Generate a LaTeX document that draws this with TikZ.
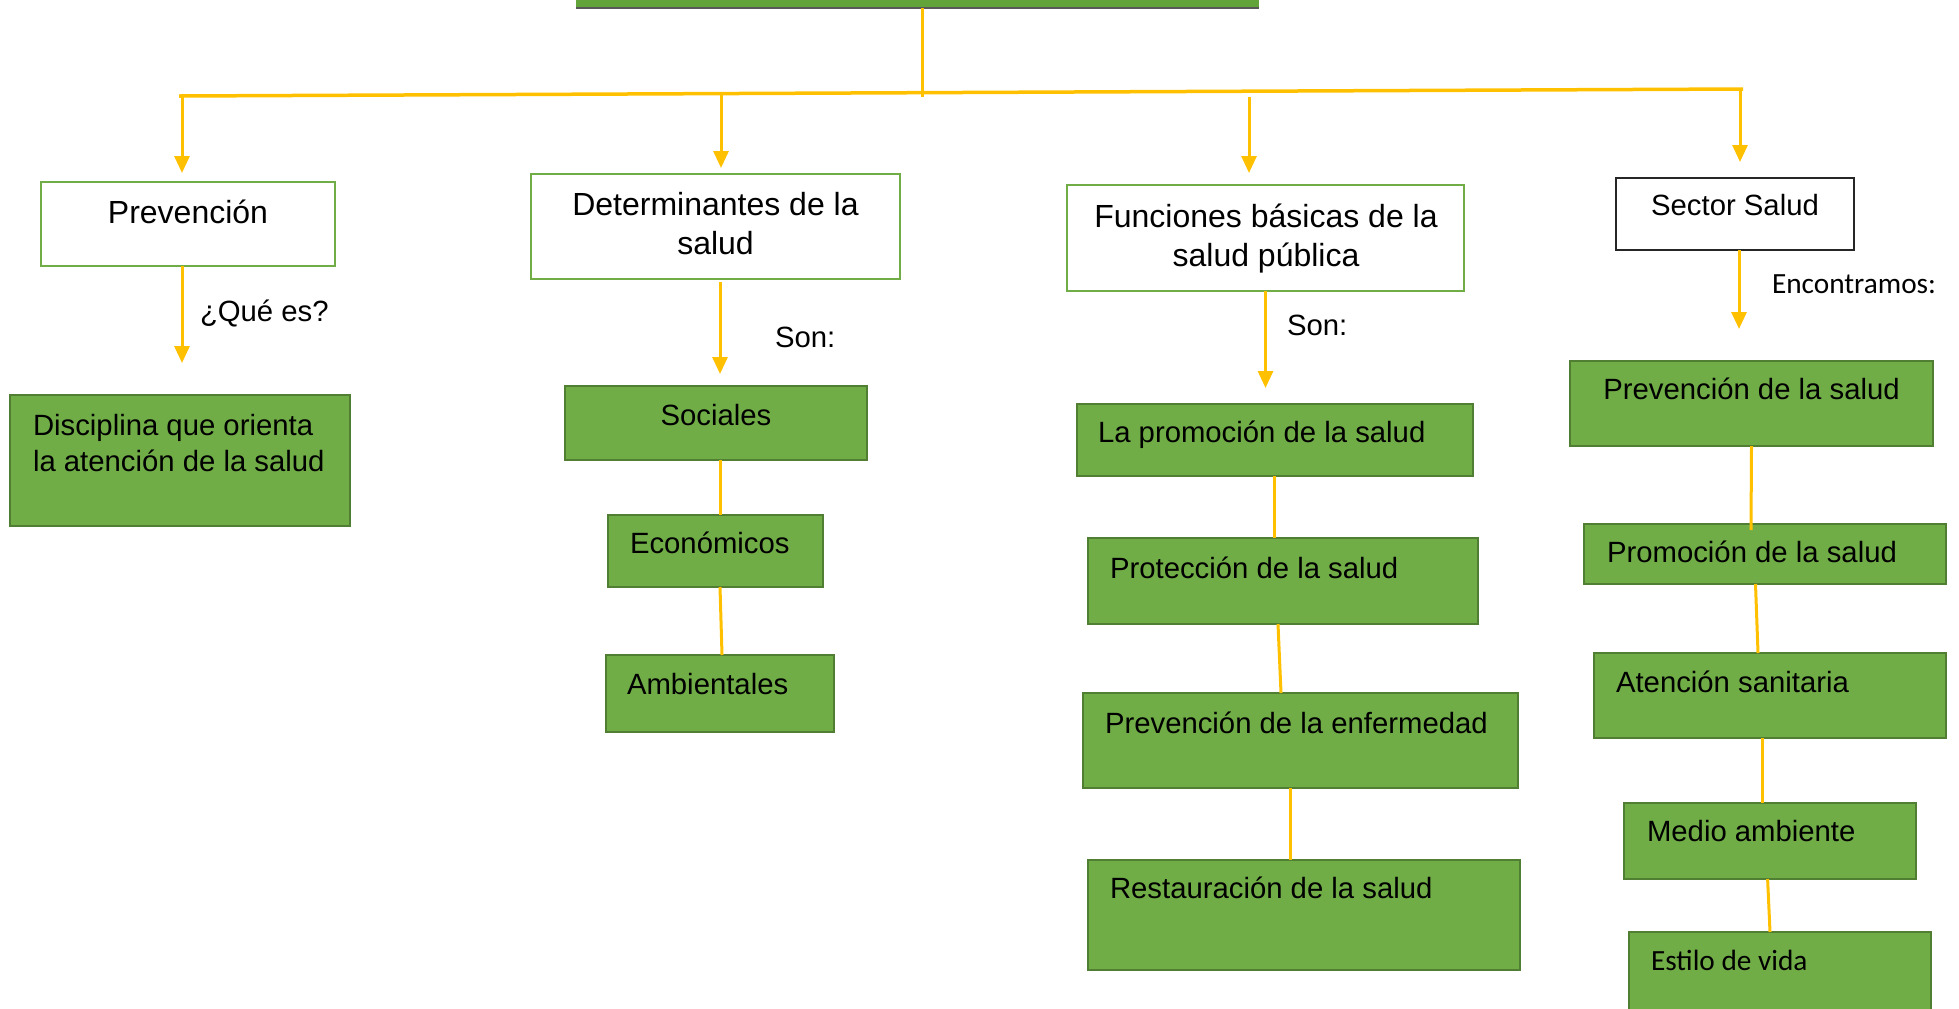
\documentclass[tikz,border=0pt]{standalone}
\usepackage{fontspec}
\setmainfont{Liberation Sans}
\newfontfamily\calib{Carlito}
\usetikzlibrary{arrows.meta}
\definecolor{yel}{HTML}{FFC000}
\definecolor{gfill}{HTML}{70AD47}
\definecolor{gline}{HTML}{507E32}
\definecolor{topgreen}{HTML}{62A33A}
\definecolor{topgray}{HTML}{595959}
\tikzset{
  gbox/.style={draw=gline, fill=gfill, line width=1.3pt, inner sep=0pt, outer sep=0pt, anchor=north west},
  wbox/.style={draw=gfill, fill=white, line width=1.1pt, inner sep=0pt, outer sep=0pt, anchor=north west},
  kbox/.style={draw=black!85, fill=white, line width=0.9pt, inner sep=0pt, outer sep=0pt, anchor=north west},
  txt/.style={inner sep=0pt, outer sep=0pt, font=\fontsize{14.65pt}{18pt}\selectfont},
  btxt/.style={inner sep=0pt, outer sep=0pt, font=\fontsize{16pt}{19pt}\selectfont},
  ctxt/.style={inner sep=0pt, outer sep=0pt, font=\calib\fontsize{14.65pt}{18pt}\selectfont},
  conn/.style={draw=yel, line width=1.5pt},
  arr/.style={conn, -{Triangle[width=7.5pt,length=8.5pt]}},
}
\begin{document}
\begin{tikzpicture}[x=0.5pt,y=-0.5pt]
\useasboundingbox (0,0) rectangle (1959,1008);
% top box
\node[fill=topgreen, inner sep=0pt, outer sep=0pt, minimum width=341.5pt, minimum height=44pt, anchor=south west] (top) at (576,8) {};
\draw[topgray, line width=1.2pt] (top.south west) -- (top.south east);
% level-1 boxes
\node[wbox, minimum width=147pt, minimum height=42pt] (prev) at (41,182) {};
\node[wbox, minimum width=184.5pt, minimum height=52.5pt] (det) at (531,174) {};
\node[wbox, minimum width=198.5pt, minimum height=53pt] (fun) at (1067,185) {};
\node[kbox, minimum width=119pt, minimum height=36pt] (sec) at (1616,178) {};
% green boxes
\node[gbox, minimum width=170pt, minimum height=65.5pt] (disc) at (10,395) {};
\node[gbox, minimum width=151pt, minimum height=37pt] (soc) at (565,386) {};
\node[gbox, minimum width=107.5pt, minimum height=36pt] (eco) at (608,515) {};
\node[gbox, minimum width=114pt, minimum height=38.5pt] (amb) at (606,655) {};
\node[gbox, minimum width=198pt, minimum height=36pt] (lp) at (1077,404) {};
\node[gbox, minimum width=195pt, minimum height=43pt] (prot) at (1088,538) {};
\node[gbox, minimum width=217.5pt, minimum height=47.5pt] (pe) at (1083,693) {};
\node[gbox, minimum width=216pt, minimum height=55pt] (rest) at (1088,860) {};
\node[gbox, minimum width=181.5pt, minimum height=42.5pt] (ps) at (1570,361) {};
\node[gbox, minimum width=181pt, minimum height=30pt] (pr) at (1584,524) {};
\node[gbox, minimum width=176pt, minimum height=42.5pt] (at) at (1594,653) {};
\node[gbox, minimum width=146pt, minimum height=38pt] (ma) at (1624,803) {};
\node[gbox, minimum width=151pt, minimum height=49pt] (ev) at (1629,932) {};
% trunk and bar
\coordinate (tv) at (922,97);
\coordinate (bl) at (179,96);
\coordinate (br) at (1743,89);
\coordinate (a1) at (182,96);
\coordinate (a2) at (721,94);
\coordinate (a3) at (1249,97);
\coordinate (a4) at (1740,89);
\draw[conn] (top.south -| tv) -- (tv);
\draw[conn, line width=1.75pt] (bl) -- (br);
\draw[arr, shorten >=4.5pt] (a1) -- (a1 |- prev.north);
\draw[arr, shorten >=3pt] (a2) -- (a2 |- det.north);
\draw[arr, shorten >=6pt] (a3) -- (a3 |- fun.north);
\draw[arr, shorten >=8pt] (a4) -- (a4 |- sec.north);
% arrows from level-1 boxes
\draw[arr, shorten >=16pt] ([xshift=-3pt]prev.south) -- ([xshift=-3pt]prev.south |- disc.north);
\draw[arr, shorten <=1.5pt, shorten >=6pt] ([xshift=2.25pt]det.south) -- ([xshift=2.25pt]det.south |- soc.north);
\draw[arr, shorten >=8pt] (fun.south) -- (fun.south |- lp.north);
\draw[arr, shorten >=16pt] ([xshift=2pt]sec.south) -- ([xshift=2pt]sec.south |- ps.north);
% plain connectors
\draw[conn] ([xshift=2pt]soc.south) -- ([xshift=2.25pt]eco.north);
\draw[conn] ([xshift=2.25pt]eco.south) -- ([xshift=1pt]amb.north);
\draw[conn] ([xshift=-0.5pt]lp.south) -- ([xshift=-4.5pt]prot.north);
\draw[conn] ([xshift=-2.5pt]prot.south) -- ([xshift=-9.75pt]pe.north);
\draw[conn] ([xshift=-5.25pt]pe.south) -- ([xshift=-7pt]rest.north);
\draw[conn] (ps.south) -- ([xshift=-7pt,yshift=-3pt]pr.north);
\draw[conn] ([xshift=-4.75pt]pr.south) -- ([xshift=-6pt]at.north);
\draw[conn] ([xshift=-3.75pt]at.south) -- ([xshift=-3.75pt]ma.north);
\draw[conn] ([xshift=-1.2pt]ma.south) -- ([xshift=-5pt]ev.north);
% texts
\node[btxt, anchor=base] (tprev) at (188,223) {Prevención};
\node[btxt, anchor=base] (tdet1) at (715.5,215) {Determinantes de la};
\node[btxt, anchor=base] (tdet2) at (715.5,254) {salud};
\node[btxt, anchor=base] (tfun1) at (1266,227) {Funciones básicas de la};
\node[btxt, anchor=base] (tfun2) at (1266,266) {salud pública};
\node[txt, anchor=base] (tsec) at (1735,215) {Sector Salud};
\node[txt, anchor=base west] (lq) at (200,321) {¿Qué es?};
\node[txt, anchor=base west] (tdisc1) at (33,435) {Disciplina que orienta};
\node[txt, anchor=base west] (tdisc2) at (33,471) {la atención de la salud};
\node[txt, anchor=base west] (lson1) at (775,347) {Son:};
\node[txt, anchor=base] (tsoc) at (716,425) {Sociales};
\node[txt, anchor=base west] (teco) at (630,553) {Económicos};
\node[txt, anchor=base west] (tamb) at (627,694) {Ambientales};
\node[txt, anchor=base west] (lson2) at (1287,335) {Son:};
\node[txt, anchor=base west] (tlp) at (1098,442) {La promoción de la salud};
\node[txt, anchor=base west] (tprot) at (1110,578) {Protección de la salud};
\node[txt, anchor=base west] (tpe) at (1105,733) {Prevención de la enfermedad};
\node[txt, anchor=base west] (trest) at (1110,898) {Restauración de la salud};
\node[ctxt, anchor=base west] (lenc) at (1772,293) {Encontramos:};
\node[txt, anchor=base] (tps) at (1751.5,399) {Prevención de la salud};
\node[txt, anchor=base west] (tpr) at (1607,562) {Promoción de la salud};
\node[txt, anchor=base west] (tat) at (1616,692) {Atención sanitaria};
\node[txt, anchor=base west] (tma) at (1647,841) {Medio ambiente};
\node[ctxt, anchor=base west] (tev) at (1651,970) {Estilo de vida};
\end{tikzpicture}
\end{document}
